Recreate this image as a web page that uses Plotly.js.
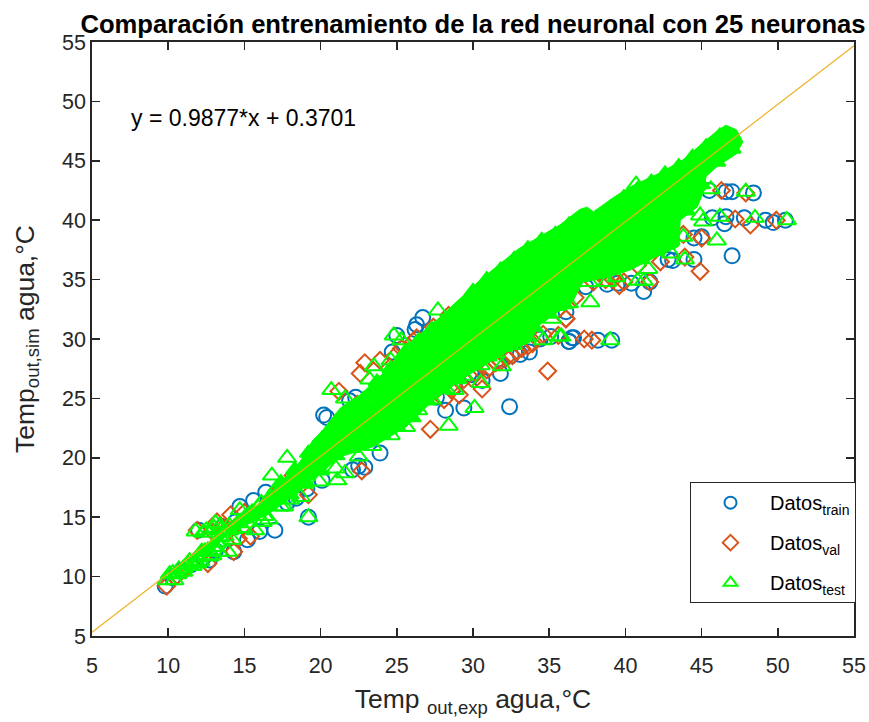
<!DOCTYPE html>
<html><head><meta charset="utf-8">
<script src="https://cdn.plot.ly/plotly-3.0.1.min.js"></script>
<style>html,body{margin:0;padding:0;background:#fff}</style></head>
<body><div id="chart" style="width:869px;height:722px"></div>
<script>
const chartTitle = 'Comparación entrenamiento de la red neuronal con 25 neuronas';
const xLabel = 'Temp <sub>out,exp</sub> agua,°C';
const yLabel = 'Temp<sub>out,sim</sub> agua,°C';
const fitText = 'y = 0.9877*x + 0.3701';
const tickVals = [5,10,15,20,25,30,35,40,45,50,55];
const fitX = [5,55];
const fitY = [5.31,54.69];

const trainX = [47,48.4,47,46.6,45.5,49.2,49.7,50.5,47.8,46.6,45.7,46.5,45,44.5,44.5,43.1,42.8,41.2,41.6,40.4,39.5,38.8,37.4,36.1,39.1,38.2,36.6,36.3,
  32.4,29.4,28.2,27.6,31.8,30.6,26.7,26.3,26.2,25,24.7,22.3,35.1,36.5,36.3,33.1,23.9,20.4,
  19.2,17,16,14.3,15.2,12,14.7,17.8,20.1,22.1,9.8,12.7,10.3,10.9,11.5,12.3,13.1,13.6,14.4,15.6,16.4,18.4,19.1,22.5,22.9,24.2,33.7,34.4,32.5,29.9,28.8,20.2,21.9];
const trainY = [37,42.3,42.4,42.4,42.5,40,39.8,40,40.2,40.3,40.2,39.7,38.6,38.5,36.7,36.6,36.7,34,34.8,34.7,34.7,34.6,34.4,32.3,29.9,29.9,30.1,29.8,
  24.3,24.2,24,25.1,27.1,26.5,31.8,31.2,30.8,30.3,28.9,25.1,30.2,30.1,29.8,28.7,20.4,23.4,
  15,13.9,13.8,12.1,13.1,13.9,15.9,16.2,18.1,19,9.2,11.4,9.9,10.5,11,11.6,12.2,14.2,14.6,16.4,17.1,16.6,17.4,19.3,19.2,25.8,28.9,30,28.6,27,26,23.6,24.8];

const valX = [44.9,43.9,42.3,45,47.2,49.9,48.2,46.3,47.9,41.6,39.6,39.9,36.1,37.3,37.8,43.8,
  34.9,27.2,29.1,30.6,22.6,22.9,23.9,35.6,36.1,26.3,19.2,14.1,11.9,13.2,12.6,9.9,15.4,14.3,
  10.6,11.2,12.2,12.9,13.6,14.6,15,16.6,17.4,18.2,22.7,22.4,21.2,24.3,25.3,31.1,31.8,32.6,33.2,33.9,34.6,38.7,40.8,28.1,29.9,35.4,
  30.2,30.9,31.5,32.2,32.9,33.6,29.4,28.6,36.7,37.9,39.2,24.9,26.1,27.4,28.4];
const valY = [35.7,36.9,36.5,38.5,40.1,40,39.6,42.5,42.3,34.8,34.5,34.8,31.7,30,29.9,38.8,
  27.3,22.4,25.3,25.8,27.1,28,28.2,30.3,31.7,30.1,16.9,15.2,13.9,14.6,11.1,9.2,13.4,12.1,
  10.1,10.8,11.9,13.8,14.1,13.2,15.4,16.3,17.4,18.5,18.9,24.5,25.6,26.4,29.2,27.6,28.1,28.6,29.2,29.6,30.4,35,36.2,24.9,26.7,33.1,
  27.1,27.4,28,28.4,29,29.4,26.6,25.7,33.5,34.8,35,28.6,29.8,31,32];

const testX = [46,37.7,39,50.6,48.5,46.2,47.9,45.6,45.1,44.9,43.9,43.8,40.8,41.2,38.8,40.7,35.7,
  28.4,30.1,30.5,31.9,28.8,27.7,24.8,25.3,23.5,23.2,21.6,34.6,35.8,24.6,20.7,
  19.2,17.8,13.9,21.1,21.6,16.8,14.7,11.8,13.1,9.9,10.4,11,12.9,16.6,
  10.1,10.7,11.4,11.9,12.4,12.3,13.5,14.2,14.9,15.3,15.9,16.3,16.9,17.3,17.9,18.3,18.8,19.4,
  17.6,18.7,19.9,21,22.5,23.4,24.6,25.6,26.4,27.3,28.2,29.4,30.5,31.5,32.6,33.5,35.2,36.3,37.6,39.4,41.5,43,
  10.3,10.6,11,11.3,11.7,12,12.2,12.6,12.9,13.2,13.4,13.7,14,14.3,14.6,15,12.5,13,13.4,14,11.6,12.1,12.7,13.3,15.5,16.1,16.7,17.1,17.4,18,15.7,16.2];
const testY = [38.3,33.1,29.9,40,40.2,40.3,42.4,42.6,39.9,40.4,36.7,38.6,34.9,34.9,34.8,43,30.2,
  22.7,24.2,26.3,27.7,25.7,32.4,30.3,29.9,27.7,26.6,25,29.9,30.2,28.2,25.7,
  15,20,12.1,18.1,18.7,18.5,15.6,13.8,14.5,9.7,9.7,10.4,11.8,14.8,
  10.2,10.6,11.3,11.1,12.1,13.7,14,13.1,14.1,15.2,15.8,15.1,16.6,17.1,17.9,18,19.2,20.4,
  15.9,16.7,18,19.1,20.1,21,21.9,22.6,24,24.9,25.8,26.9,27.8,28.8,29.5,30.2,31.7,33,34.8,35.2,35.9,37.2,
  10.3,10.2,10.7,11,11.2,11.6,12.1,12.2,12.5,12.9,13.3,13.4,13.9,14,14.5,14.9,13.9,14.1,14.3,14.3,10.9,11.3,11.7,12.1,15.4,16.2,16.7,17.4,15.9,16.5,13.9,14.6];

const testEdgeX = [17.4,18.3,19.2,20.1,21,21.9,22.8,23.7,24.6,25.5,26.4,27.3,28.2,29.1,30,30.9,31.8,32.7,33.6,34.5,35.4,36.3,37.2,38.1,39,39.9,40.8,41.7,42.6,43.5,44.4,45.3,46.2,47,
  18,19,20,21,22,23,24,25,26,27,28,29,30,31,32,33,34,35,36,37,38,39,40,41,42,43,44,45,46,47];
const testEdgeY = [17.9,19,20.4,21.6,23,24.1,24.9,26.4,27.5,28.8,29.8,30.8,31.6,32.6,34,35,35.8,36.7,37.6,38.3,38.8,39.6,40.3,40.2,41,41.9,42.6,43.2,43.9,44.5,45.3,46.2,47.1,46.8,
  16.9,17.8,18.9,20.2,20.8,21.4,22,22.6,23.4,24.8,25.8,26.6,27.8,28.5,29.3,30,31,32.1,32.9,35.2,35.6,35.8,36.3,36.7,37.4,38.3,40.8,43,44.9,46];

const cloudX = [11,12.5,14,15,15.8,16.6,17.6,18.6,19.5,20,21.3,22.6,24.1,25.6,27.8,28.9,30.5,33,35.7,37,37.5,37.9,39.2,40.3,42.3,43.8,45.1,46,46.6,47.3,47.7,
  47.3,46,45.3,45.1,44.7,43.6,43.5,42,40.3,38.8,37.2,36.6,36.1,35.7,34.4,33.7,32.2,30.5,28.9,27.2,25.6,23.4,21.3,20,17.8,16.5,15.5,14,12.5];
const cloudY = [11.1,12.6,14,15.2,16,17,18.2,19.5,21.5,22.1,24.2,25.3,27.1,29.4,31.8,33.1,35,37.6,39.6,40.9,41.1,40.7,41.9,42.8,44,45.1,46.5,47.5,48,47.6,46.6,
  45.6,44.5,43.7,42.3,41.1,40,37.8,36.9,35.8,35.2,34.8,33.3,32.4,32.4,31.2,29.7,28.9,27.6,26.3,24.6,22.6,20.9,20.1,18.7,16.4,15.2,14.6,13.6,12];

const font = 'Liberation Sans, Arial, sans-serif';
const ink = '#262626';
const pts = (x,y,name,symbol,color,size) => ({x,y,name,legendgroup:name,type:'scatter',mode:'markers',cliponaxis:false,
  marker:{symbol,size,color:color,line:{color:color,width:2}}});
const traces = [
  pts(trainX,trainY,'Datos<sub>train</sub>','circle-open','#0072BD',15),
  pts(valX,valY,'Datos<sub>val</sub>','diamond-open','#D95319',13),
  {x:cloudX,y:cloudY,type:'scatter',mode:'lines',fill:'toself',fillcolor:'#00FF00',line:{color:'#00FF00',width:1},showlegend:false,hoverinfo:'skip'},
  Object.assign(pts(testEdgeX,testEdgeY,'edge','triangle-up','#00FF00',15),{showlegend:false}),
  pts(testX,testY,'Datos<sub>test</sub>','triangle-up-open','#00FF00',16),
  {x:fitX,y:fitY,type:'scatter',mode:'lines',line:{color:'#EDB120',width:1.2},showlegend:false}
];
const axis = (title,standoff,labelOff) => ({range:[5,55],tickvals:tickVals,ticktext:tickVals.map(String),ticks:'inside',ticklen:8,tickwidth:1.5,tickcolor:ink,
  showline:true,linecolor:ink,linewidth:1.8,mirror:'ticks',showgrid:false,zeroline:false,ticklabelstandoff:labelOff,
  tickfont:{family:font,size:21.5,color:ink},title:{text:title,font:{family:font,size:26.5,color:ink},standoff}});
const xAxis = axis(xLabel,13,9);
xAxis.domain = [0,762/771];
const layout = {
  width:869,height:722,paper_bgcolor:'#fff',plot_bgcolor:'#fff',
  margin:{l:92,r:6,t:42,b:86,pad:0},
  title:{text:'<b>'+chartTitle+'</b>',font:{family:font,size:25.6,color:'#000'},x:473/869,xref:'container',xanchor:'center',y:0.967,yanchor:'middle'},
  xaxis:xAxis,
  yaxis:axis(yLabel,20,0),
  showlegend:true,
  legend:{x:598/771,y:0.259,xanchor:'left',yanchor:'top',bgcolor:'#fff',bordercolor:ink,borderwidth:1,font:{family:font,size:20,color:'#000'},itemsizing:'constant',itemwidth:69,entrywidth:163,entrywidthmode:'pixels',traceorder:'grouped',tracegroupgap:11},
  annotations:[{text:fitText,xref:'x',yref:'y',x:7.4,y:48.6,xanchor:'left',yanchor:'middle',showarrow:false,font:{family:font,size:23,color:'#000'}}]
};
Plotly.newPlot('chart',traces,layout,{displayModeBar:false,staticPlot:true});
</script></body></html>
